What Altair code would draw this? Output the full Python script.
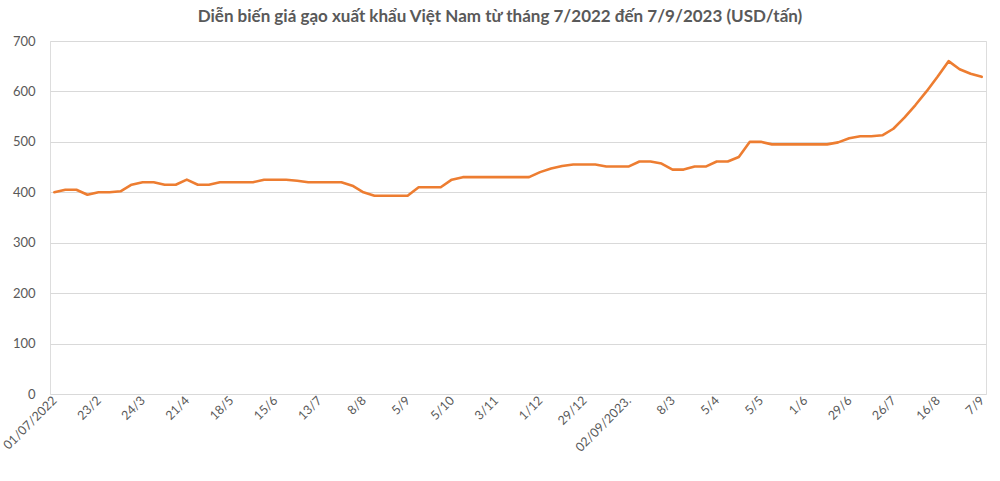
import altair as alt
import pandas as pd

# Price series (USD/tấn), one value per observation
prices = [
    400, 405, 405, 395, 400, 400, 402, 415, 420, 420,
    415, 415, 425, 415, 415, 420, 420, 420, 420, 425,
    425, 425, 423, 420, 420, 420, 420, 413, 400, 393,
    393, 393, 393, 410, 410, 410, 425, 430, 430, 430,
    430, 430, 430, 430, 440, 447, 452, 455, 455, 455,
    451, 451, 451, 461, 461, 457, 445, 445, 451, 451,
    461, 461, 470, 500, 500, 495, 495, 495, 495, 495,
    495, 499, 507, 511, 511, 513, 526, 548, 573, 600,
    629, 660, 644, 635, 629,
]

# Category labels shown on the x axis (every 4th observation)
tick_labels = [
    "01/07/2022", "23/2", "24/3", "21/4", "18/5", "15/6", "13/7", "8/8",
    "5/9", "5/10", "3/11", "1/12", "29/12", "02/09/2023.", "8/3", "5/4",
    "5/5", "1/6", "29/6", "26/7", "16/8", "7/9",
]
tick_step = 4
y_ticks = [0, 100, 200, 300, 400, 500, 600, 700]

title_text = "Diễn biến giá gạo xuất khẩu Việt Nam từ tháng 7/2022 đến 7/9/2023 (USD/tấn)"

df = pd.DataFrame({"i": list(range(len(prices))), "price": prices})

tick_positions = [k * tick_step for k in range(len(tick_labels))]
label_map = "{" + ",".join(f"'{p}':'{l}'" for p, l in zip(tick_positions, tick_labels)) + "}"
label_expr = label_map + "[toString(datum.value)]"

FONT = "Lato"
GRAY = "#595959"

chart = alt.Chart(df).mark_line(
    color="#ED7D31", strokeWidth=2.6, strokeJoin="round", strokeCap="round"
).encode(
    x=alt.X(
        "i:Q",
        scale=alt.Scale(domain=[-0.39, len(prices) - 1 + 0.39], nice=False, zero=False),
        axis=alt.Axis(
            values=tick_positions,
            labelExpr=label_expr,
            labelAngle=-45,
            labelAlign="right",
            labelBaseline="middle",
            labelOverlap=False,
            labelBound=False,
            labelPadding=4,
            labelFontSize=12.5,
            labelColor=GRAY,
            labelFont=FONT,
            grid=False,
            ticks=False,
            domain=False,
            title=None,
        ),
    ),
    y=alt.Y(
        "price:Q",
        scale=alt.Scale(domain=[0, 700], nice=False),
        axis=alt.Axis(
            values=y_ticks,
            grid=True,
            gridColor="#D9D9D9",
            gridWidth=1,
            domain=False,
            ticks=False,
            labelPadding=15,
            labelFontSize=13,
            labelColor=GRAY,
            labelFont=FONT,
            title=None,
        ),
    ),
).properties(
    width=936,
    height=353,
    title=alt.TitleParams(
        text=title_text,
        font=FONT,
        fontSize=17,
        fontWeight="bold",
        color=GRAY,
        anchor="middle",
        dx=-18,
        offset=9,
    ),
    padding={"left": 50, "top": 41, "right": 14, "bottom": 87},
    autosize=alt.AutoSizeParams(type="none"),
).configure_view(stroke=None).configure(background="white")

chart.save("out.html", embed_options={"renderer": "svg", "actions": False})
